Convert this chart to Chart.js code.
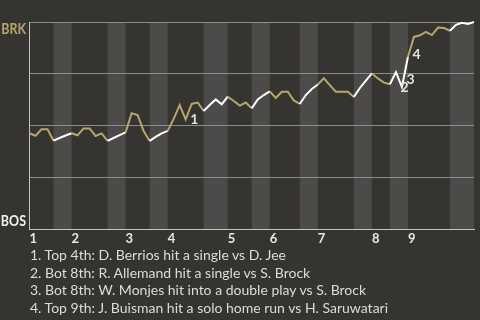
<!DOCTYPE html>
<html><head><meta charset="utf-8">
<script src="https://cdn.jsdelivr.net/npm/chart.js@4.4.1/dist/chart.umd.min.js"></script>
<style>
html,body{margin:0;padding:0;background:#363430;overflow:hidden;}
#wrap{position:relative;width:480px;height:320px;}
canvas{position:absolute;left:0;top:0;}
#notes{position:absolute;left:30px;top:246px;margin:0;padding:0;list-style:none;font-family:Lato,sans-serif;font-size:14px;color:#dcdcdc;line-height:17.6px;white-space:nowrap;}
#notes li{margin:0;padding:0;}
</style></head><body>
<div id="wrap"><canvas id="c" width="480" height="320"></canvas><ul id="notes"></ul></div>
<script>
// plays per half-inning (top 1st, bot 1st, top 2nd, ...)
const halfInningPlays = [4,3,6,3,4,3,6,4,4,3,5,3,6,3,3,3,7,4];
const innings = ['1','2','3','4','5','6','7','8','9'];
const teamTop = 'BRK';
const teamBottom = 'BOS';
// BRK win probability (%) after each play (index 0 = game start)
const brkWinPct = [46.4,45.2,48.3,48.3,42.8, 44.1,45.3,46.4,
  45.4,48.7,48.7,45.1,46.3,42.7, 44.1,45.5,46.8,
  56.0,55.2,47.5,42.7, 44.6,46.3,47.5,
  53.3,60.0,53.1,60.5,61.2,57.1, 60.0,62.7,60.3,64.0,
  61.9,59.7,61.2,58.4, 62.7,64.8,66.6,
  63.4,66.4,66.4,62.2,60.5, 64.8,67.7,69.9,
  72.9,69.6,66.4,66.4,66.4,63.9, 68.2,71.8,75.2,
  72.8,70.8,70.0, 75.8,68.7,83.1,
  92.8,93.6,95.2,93.7,97.3,97.1,95.8, 98.6,99.6,99.1,100];
const eventPlays = [27, 62, 63, 64];
const eventTexts = [
  'Top 4th: D. Berrios hit a single vs D. Jee',
  'Bot 8th: R. Allemand hit a single vs S. Brock',
  'Bot 8th: W. Monjes hit into a double play vs S. Brock',
  'Top 9th: J. Buisman hit a solo home run vs H. Saruwatari'
];

const BG = '#363430', BAND = '#4c4b49', GOLD = '#b6a66d', WHITE = '#ffffff';
const cum = [0];
halfInningPlays.forEach(n => cum.push(cum[cum.length-1] + n));
const inningStarts = innings.map((_, i) => cum[2*i]);
const halfOf = p => { for (let k = 0; k < halfInningPlays.length; k++) if (p > cum[k] && p <= cum[k+1]) return k; return 0; };

const notes = document.getElementById('notes');
eventTexts.forEach((t, i) => { const li = document.createElement('li'); li.textContent = (i+1) + '. ' + t; notes.appendChild(li); });

const bandsPlugin = {
  id: 'bands',
  beforeDraw(chart) {
    const {ctx, chartArea: a, scales: {x}} = chart;
    ctx.save();
    ctx.fillStyle = BG; ctx.fillRect(0, 0, chart.width, chart.height);
    ctx.fillStyle = BAND;
    for (let k = 1; k < halfInningPlays.length; k += 2) {
      const x0 = x.getPixelForValue(cum[k]), x1 = x.getPixelForValue(cum[k+1]);
      ctx.fillRect(x0, a.top, x1 - x0, a.bottom - a.top);
    }
    ctx.restore();
  }
};
const labelsPlugin = {
  id: 'evlabels',
  afterDatasetsDraw(chart) {
    const {ctx, chartArea: a, scales: {x, y}} = chart;
    ctx.save();
    ctx.font = 'bold 14px Lato, sans-serif';
    ctx.fillStyle = '#e2e2e2';
    ctx.textAlign = 'left'; ctx.textBaseline = 'alphabetic';
    eventPlays.forEach((p, i) => {
      const mx = (x.getPixelForValue(p-1) + x.getPixelForValue(p)) / 2;
      const my = (y.getPixelForValue(brkWinPct[p-1]) + y.getPixelForValue(brkWinPct[p])) / 2;
      ctx.fillText(String(i+1), mx + 1.5, my + 12);
    });
    ctx.restore();
    // team names, slightly condensed
    const drawTeam = (txt, color, yBase) => {
      ctx.save();
      ctx.font = 'bold 14.5px Lato, sans-serif';
      ctx.fillStyle = color; ctx.textAlign = 'right'; ctx.textBaseline = 'alphabetic';
      ctx.translate(a.left - 3.5, yBase);
      ctx.scale(0.86, 1);
      ctx.fillText(txt, 0, 0);
      ctx.restore();
    };
    drawTeam(teamTop, GOLD, a.top + 12.3);
    drawTeam(teamBottom, '#f2f2f2', a.bottom - 3.5);
  }
};

new Chart(document.getElementById('c'), {
  type: 'line',
  data: { datasets: [{
    data: brkWinPct.map((v, i) => ({x: i, y: v})),
    borderWidth: 2, pointRadius: 0, tension: 0, fill: false, clip: 4,
    borderColor: GOLD,
    segment: { borderColor: c => (halfOf(c.p1DataIndex) % 2 === 0 ? GOLD : WHITE) }
  }]},
  options: {
    responsive: false, animation: false,
    layout: { padding: { top: 22, right: 6, left: 0, bottom: 0 } },
    plugins: { legend: {display: false}, tooltip: {enabled: false} },
    scales: {
      x: {
        type: 'linear', min: 0, max: cum[cum.length-1],
        afterBuildTicks: s => { s.ticks = inningStarts.map(v => ({value: v})); },
        afterFit: s => { s.height = 90.5; },
        ticks: { autoSkip: false, maxRotation: 0, align: 'start', padding: 2, color: '#e6e6e6',
          font: { family: 'Lato, sans-serif', size: 13, weight: 'bold' },
          callback: (v, i) => innings[i] },
        grid: { display: false, drawTicks: false },
        border: { display: true, color: '#c4c4c4', width: 1 }
      },
      y: {
        min: 0, max: 100,
        afterBuildTicks: s => { s.ticks = [0, 25, 50, 75, 100].map(v => ({value: v})); },
        afterFit: s => { s.width = 29.5; },
        ticks: { display: false },
        grid: { color: '#8c8c8c', drawTicks: false, lineWidth: 1 },
        border: { display: true, color: '#c4c4c4', width: 1 }
      }
    }
  },
  plugins: [bandsPlugin, labelsPlugin]
});
</script>
</body></html>
